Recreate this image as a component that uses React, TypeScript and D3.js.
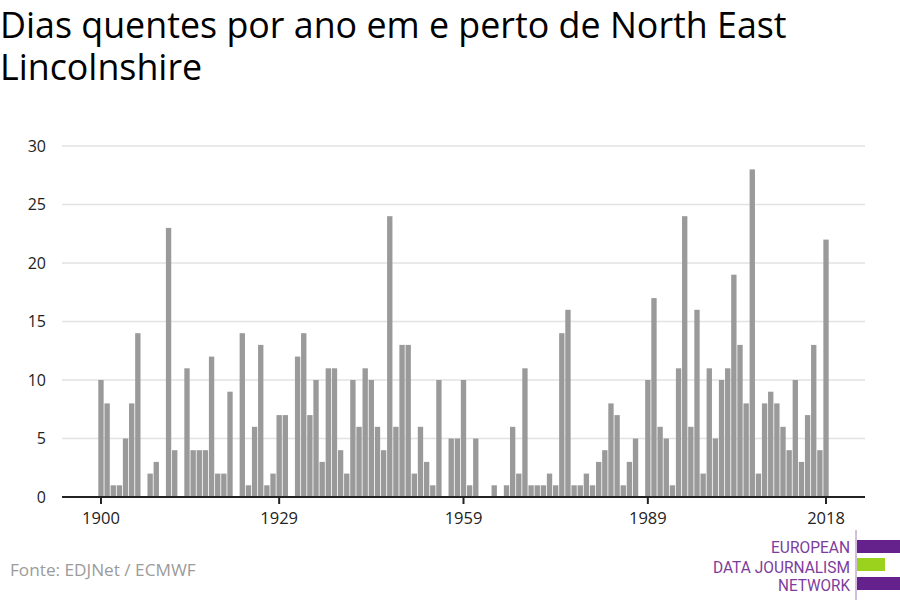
import React, { useEffect, useRef } from 'react';
import * as d3 from 'd3';

// Hot days per year, 1900-2018
const startYear = 1900;
const hotDays: number[] = [
  10, 8, 1, 1, 5, 8, 14, 0, 2, 3, // 1900-1909
  0, 23, 4, 0, 11, 4, 4, 4, 12, 2, // 1910-1919
  2, 9, 0, 14, 1, 6, 13, 1, 2, 7, // 1920-1929
  7, 0, 12, 14, 7, 10, 3, 11, 11, 4, // 1930-1939
  2, 10, 6, 11, 10, 6, 4, 24, 6, 13, // 1940-1949
  13, 2, 6, 3, 1, 10, 0, 5, 5, 10, // 1950-1959
  1, 5, 0, 0, 1, 0, 1, 6, 2, 11, // 1960-1969
  1, 1, 1, 2, 1, 14, 16, 1, 1, 2, // 1970-1979
  1, 3, 4, 8, 7, 1, 3, 5, 0, 10, // 1980-1989
  17, 6, 5, 1, 11, 24, 6, 16, 2, 11, // 1990-1999
  5, 10, 11, 19, 13, 8, 28, 2, 8, 9, // 2000-2009
  8, 6, 4, 10, 3, 7, 13, 4, 22, // 2010-2018
];
const years = hotDays.map((_, i) => startYear + i);
const xTicks = [1900, 1929, 1959, 1989, 2018];
const yTicks = [0, 5, 10, 15, 20, 25, 30];

const titleLines = ['Dias quentes por ano em e perto de North East', 'Lincolnshire'];
const sourceText = 'Fonte: EDJNet / ECMWF';
const logoLines = ['EUROPEAN', 'DATA JOURNALISM', 'NETWORK'];

export default function App() {
  const svgRef = useRef<SVGSVGElement>(null);

  useEffect(() => {
    if (!svgRef.current) return;
    const svg = d3.select(svgRef.current);
    svg.selectAll('*').remove();

    const font = '"Open Sans", "Noto Sans", sans-serif';

    // title
    svg.append('text')
      .attr('x', 0)
      .attr('y', 38)
      .attr('fill', '#000')
      .style('font-family', font)
      .style('font-size', '35.8px')
      .selectAll('tspan')
      .data(titleLines)
      .enter()
      .append('tspan')
      .attr('x', 0)
      .attr('dy', (_, i) => (i === 0 ? 0 : 42))
      .text(d => d);

    const x = d3.scaleBand<number>()
      .domain(years)
      .range([97.9, 829.1])
      .paddingInner(0.13)
      .paddingOuter(0.065);

    const y = d3.scaleLinear()
      .domain([0, 30])
      .range([497, 146]);

    const left = 62;
    const right = 865;

    // grid
    svg.append('g')
      .selectAll('line')
      .data(yTicks.filter(t => t > 0))
      .enter()
      .append('line')
      .attr('x1', left)
      .attr('x2', right)
      .attr('y1', d => y(d))
      .attr('y2', d => y(d))
      .attr('stroke', '#e2e2e2')
      .attr('stroke-width', 1.5);

    // y labels
    svg.append('g')
      .selectAll('text')
      .data(yTicks)
      .enter()
      .append('text')
      .attr('x', 46)
      .attr('y', d => y(d))
      .attr('dy', '0.35em')
      .attr('text-anchor', 'end')
      .attr('fill', '#222')
      .style('font-family', font)
      .style('font-size', '16px')
      .text(d => d);

    // bars
    svg.append('g')
      .selectAll('rect')
      .data(hotDays)
      .enter()
      .append('rect')
      .attr('x', (_, i) => x(years[i]) || 0)
      .attr('y', d => y(d))
      .attr('width', x.bandwidth())
      .attr('height', d => y(0) - y(d))
      .attr('fill', '#9a9a9a');

    // x axis
    const xAxis = svg.append('g').attr('transform', `translate(0,${y(0)})`);
    xAxis.append('line')
      .attr('x1', left)
      .attr('x2', right)
      .attr('stroke', '#222')
      .attr('stroke-width', 2);
    const center = (yr: number) => (x(yr) || 0) + x.bandwidth() / 2;
    xAxis.selectAll('.tick')
      .data(xTicks)
      .enter()
      .append('line')
      .attr('x1', d => center(d))
      .attr('x2', d => center(d))
      .attr('y1', 0)
      .attr('y2', 7)
      .attr('stroke', '#222')
      .attr('stroke-width', 2);
    xAxis.selectAll('.tick-label')
      .data(xTicks)
      .enter()
      .append('text')
      .attr('x', d => center(d))
      .attr('y', 26.5)
      .attr('text-anchor', 'middle')
      .attr('fill', '#222')
      .style('font-family', font)
      .style('font-size', '16.5px')
      .text(d => d);

    // source
    svg.append('text')
      .attr('x', 10)
      .attr('y', 576)
      .attr('fill', '#9b9b9b')
      .style('font-family', font)
      .style('font-size', '17.2px')
      .text(sourceText);

    // logo
    const logo = svg.append('g');
    const logoWidths = [79, 137, 72];
    logo.selectAll('text')
      .data(logoLines)
      .enter()
      .append('text')
      .attr('x', 850)
      .attr('y', (_, i) => [553, 573, 591][i])
      .attr('text-anchor', 'end')
      .attr('fill', '#7d3c9c')
      .attr('textLength', (_, i) => logoWidths[i])
      .attr('lengthAdjust', 'spacingAndGlyphs')
      .style('font-family', 'Roboto, sans-serif')
      .style('font-size', '16px')
      .text(d => d);
    logo.append('line')
      .attr('x1', 856)
      .attr('x2', 856)
      .attr('y1', 530)
      .attr('y2', 600)
      .attr('stroke', '#a57cc0')
      .attr('stroke-width', 1);
    logo.append('rect').attr('x', 857).attr('y', 540).attr('width', 43).attr('height', 13).attr('fill', '#66228c');
    logo.append('rect').attr('x', 857).attr('y', 558).attr('width', 28).attr('height', 13).attr('fill', '#9bd21e');
    logo.append('rect').attr('x', 857).attr('y', 577).attr('width', 43).attr('height', 13).attr('fill', '#66228c');
  }, []);

  return (
    <div style={{ position: 'absolute', top: 0, left: 0, width: 900, height: 600, background: '#fff' }}>
      <svg ref={svgRef} width={900} height={600} style={{ display: 'block' }} />
    </div>
  );
}
